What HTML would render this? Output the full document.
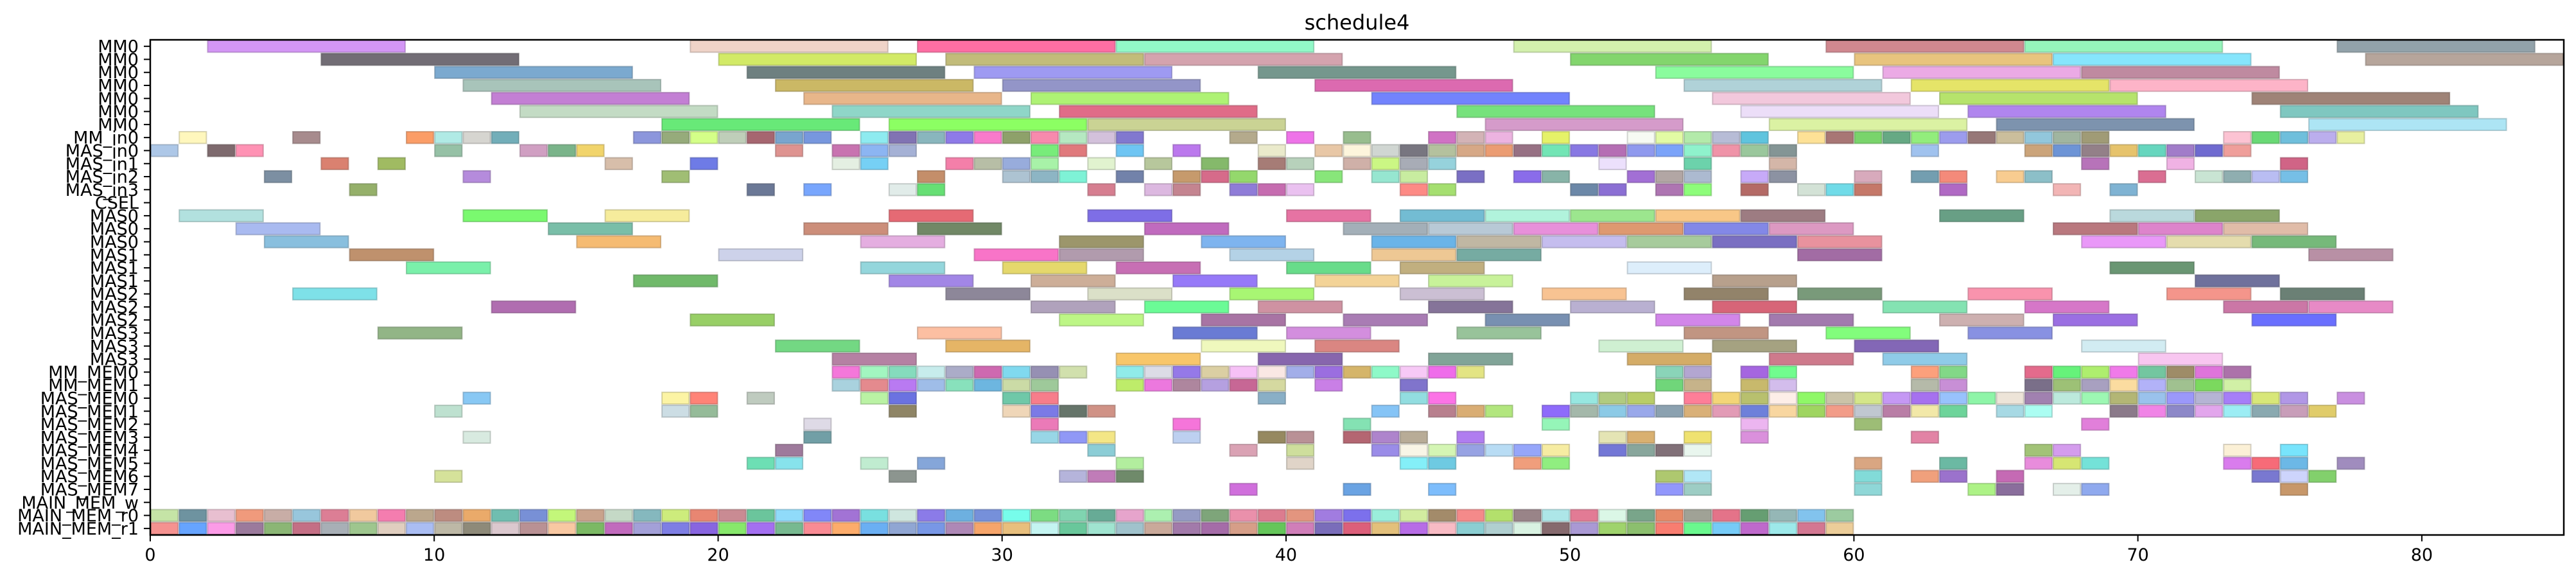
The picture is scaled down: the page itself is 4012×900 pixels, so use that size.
<!DOCTYPE html>
<html><head><meta charset="utf-8"><title>schedule4</title>
<style>html,body{margin:0;padding:0;background:#fff}svg{display:block}text{font-family:"DejaVu Sans","Liberation Sans",sans-serif;fill:#000}</style>
</head><body>
<svg id="chart" width="4012" height="900" viewBox="0 0 4012 900" xmlns="http://www.w3.org/2000/svg">
<g id="bars"></g>
<g id="axes"></g>
</svg>
<script>
const rowLabels = ["MM0","MM0","MM0","MM0","MM0","MM0","MM0","MM_in0","MAS_in0","MAS_in1","MAS_in2","MAS_in3","CSEL","MAS0","MAS0","MAS0","MAS1","MAS1","MAS1","MAS2","MAS2","MAS2","MAS3","MAS3","MAS3","MM_MEM0","MM_MEM1","MAS_MEM0","MAS_MEM1","MAS_MEM2","MAS_MEM3","MAS_MEM4","MAS_MEM5","MAS_MEM6","MAS_MEM7","MAIN_MEM_w","MAIN_MEM_r0","MAIN_MEM_r1"];
const xTicks = [0,10,20,30,40,50,60,70,80];
const xDomain = [0,85];
const chartTitle = "schedule4";
// Each row: "start-end color" or "start color" (unit-length task)
const rowTasks = [
"2-9 d396f5,19-26 efd3c8,27-34 fd6ea3,34-41 92f9c8,48-55 d3f0ad,59-66 d0888f,66-73 95f5bb,77-84 92a2aa",
"6-13 726d75,20-27 d2ea66,28-35 c2bc7a,35-42 d4a3ae,50-57 83d56d,60-67 e8c47e,67-74 86e5fc,78-85 b6a59b",
"10-17 7ba9cf,21-28 6e8080,29-36 9e9af2,39-46 75978d,53-60 8afc9d,61-68 ebaae5,68-75 bf8aa0",
"11-18 a8c4ba,22-29 cbb865,30-37 9395c8,41-48 dc6ab0,54-61 b0d2d8,62-69 e5e468,69-76 fdb4c8",
"12-19 c37fd4,23-30 e8b68a,31-38 aef274,43-50 7283fd,55-62 f2c8dc,63-70 b6e36c,74-81 9f8377",
"13-20 c3dbc4,24-31 8fd6c8,32-39 e06c88,46-53 76e27c,56-63 ecdef8,64-71 b085ee,75-82 7fc7c0",
"18-25 68e978,26-33 8cff63,33-40 cad394,47-54 d59bca,57-64 dbf2a3,65-72 7d93ae,76-83 ade5f4",
"1 fff7bd,5 a78b8d,9 fb9d67,10 b0eae5,11 d6d5d0,12 72aeb9,17 8c96dc,18 96ab7b,19 d4ff88,20 bfceb9,21 a66670,22 79a5ce,23 7797de,25 8eebf0,26 8173b3,27 89b6bd,28 8e7ae8,29 f97acb,30 8ea16a,31 f78aad,32 b5e8c1,33 d3c1db,34 8178cf,38 b4aa8c,40 ee73e8,42 98bd8e,45 d072c4,46 d3b3b6,47 ecb3e0,49 e5f268,52 f6faf3,53 e2fba4,54 b3eaaa,55 b7bcd6,56 5fc4de,58 fde196,59 a87675,60 79d46b,61 66a984,62 92ed7c,63 9c9ced,64 977878,65 cbbe9c,66 92c7dc,67 a0b5a0,68 a09b76,73 fcc3d3,74 69d975,75 6fbfdc,76 bbaeed,77 e8f0a0",
"0 adc7e7,2 7e6a6e,3 ff92b4,10 96c1a6,13 d09fc2,14 7ab48a,15 f1d46b,22 de9390,24 c873b0,25 8cb5f2,26 a5b1d5,31 78ec7a,32 e0797c,34 6ec5f3,36 bb78ed,39 eaeacb,41 e8c7a6,42 fdf5dc,43 d0d6d2,44 787680,45 b4c19e,46 d6a886,47 eb9c72,48 977184,49 72e5b5,50 8878e3,51 b56eb4,52 8f99ee,53 7ba3f9,54 8ff2cc,55 ef93a8,56 9ac79c,57 849595,62 a0c2ee,66 cba47a,67 6d94d6,68 938088,69 e6c36c,70 66d6be,71 a17cc9,72 6f6ad0,73 ef9e9a",
"6 da8170,8 a0bb62,16 d7beaa,19 6e7be6,24 e4efe2,25 76d0f5,28 f47fa9,29 b7bea6,30 98acdc,31 a8f2a8,33 e1f3cf,35 b7c79c,37 85b96b,39 a67c76,40 b7d1bb,42 cfb0a8,43 cbf784,44 a8acb6,45 96d2dc,51 ece0fc,54 6cd2ab,57 d4b6a8,68 b773b9,71 f0b2e4,75 d06486",
"4 7c8fa2,11 b58bdc,18 a0be74,27 c48e6a,30 adc3d2,31 8db5c4,32 7ef2d6,34 7282aa,36 c69a6c,37 d66b8a,38 94d86c,41 88e67a,43 96e6d0,44 c8eca0,46 7a6fc4,48 8a6cea,49 88b4a8,52 a26fd5,53 b2a6a4,54 acbad0,56 c7aaf8,57 8c92a2,60 d8aabc,62 739eb0,63 f48a7a,65 f8cc90,66 8cbfc8,70 da6e92,72 c9e4d3,73 8faeb0,74 b9bdf2,75 76bfe6",
"7 95b06a,21 6b7896,23 78a6fd,26 e1ece9,27 66df74,33 d67e90,35 dcb8e0,36 c48490,38 8f7cd8,39 c66cb0,40 eac1f0,44 fd8a85,45 a5df70,50 6c88a8,51 8b6fd4,53 ae75b2,54 8dfd7a,56 b46a66,58 d3e2d6,59 70dbe8,60 c57869,63 b069c4,67 f2b5b5,69 7fb3d3",
"",
"1-4 b2e1df,11-14 7af96f,16-19 f6ec9c,26-29 e56a74,33-36 7e6ee6,40-43 e673a3,44-47 73bcd3,47-50 b1f3dc,50-53 9ce68e,53-56 f8c787,56-59 9d7c82,63-66 689f85,69-72 bad9dd,72-75 8aa56a",
"3-6 a9baf0,14-17 79bea8,23-26 cc8e7a,27-30 718866,35-38 c06bbe,42-45 a3afb8,45-48 b8c9d6,48-51 e790da,51-54 de9970,54-57 8388e7,57-60 dc99c2,67-70 b9787e,70-73 dd84cb,73-76 e0bca8",
"4-7 89bfde,15-18 f5bb72,25-28 e4aee0,32-35 9c966b,37-40 7eb4ef,43-46 6ab4e8,46-49 c0b7a3,49-52 c5bdee,52-55 a7cb9c,55-58 7a6fc2,58-61 e8929e,68-71 e998f8,71-74 e4dcad,74-77 76b97a",
"7-10 bf916d,20-23 cdd2ea,29-32 f874c8,32-35 b19bad,38-41 b4d2e6,43-46 eec894,46-49 76aba2,58-61 a26ca4,76-79 b890a5",
"9-12 7af0aa,25-28 94d6dc,30-33 e5d86c,34-37 c76fb4,40-43 68dc8a,44-47 c1af7f,52-55 ddeefb,69-72 6a9673",
"17-20 70b96a,26-29 a286e6,31-34 cdae98,36-39 9679f8,41-44 f3d397,45-48 c8f29a,55-58 b7a08c,72-75 6f719c",
"5-8 7ee1e8,28-31 8d8799,33-36 dbe0c8,38-41 a8f673,44-47 cbbfd3,49-52 f8c392,54-57 92836a,58-61 799a7a,64-67 f993ad,71-74 f4958b,75-78 6b8075",
"12-15 b06db0,31-34 b0a2bc,35-38 6bfb96,39-42 cf92a2,45-48 857499,50-53 b9b0d1,55-58 d76578,61-64 84e3b2,66-69 d677c8,73-76 cb77a6,76-79 e78ac6",
"19-22 98cf66,32-35 bdf686,37-40 a874a4,42-45 a97cb4,47-50 7890b1,53-56 d286e9,57-60 a27aae,63-66 cdb0b0,67-70 9b6fe2,74-77 6a6ffe",
"8-11 92b586,27-30 fcbfa2,36-39 6a7bd4,40-43 d38ede,46-49 98c39a,54-57 c19582,59-62 82fd7c,64-67 8891e2",
"22-25 73d883,28-31 e5b566,37-40 eff8bd,41-44 da8682,51-54 cff0d2,55-58 a5a281,60-63 8367b6,68-71 d2ecf2",
"24-27 b581a3,34-37 f8c66a,39-42 8766ad,45-48 81a498,52-55 d4ac67,57-60 ce7a8c,61-64 8fcbe8,70-73 f8c6f0",
"24 f477da,25 a2f6c0,26 85dbbd,27 c7ecec,28 abacc8,29 ce69b0,30 80d9ef,31 9690b3,32 d1e0ad,34 90ebe9,35 dcdce6,36 9579e8,37 dbcfa3,38 f6c1f6,39 fae8e4,40 a2aee9,41 9b6ee0,42 d5b56a,43 8ef9c8,44 f7c9f6,45 ef6cea,46 e3e483,53 8ad4b8,54 b3a6d1,56 a566e0,57 71fc8e,62 fca07c,63 82d887,66 e36b8c,67 66f27a,68 aeee6e,69 f07ae9,70 73c6a0,71 9e8c68,72 df74db,73 ac72aa",
"24 a9d2de,25 e48a8e,26 b97af2,27 9fbde8,28 88e1bc,29 6db6e0,30 cbdba6,31 9ec99a,34 beec6a,35 ec78de,36 ae869e,37 b5a0e0,38 c76795,39 d5d9a0,41 c97fe6,44 8074cc,53 70d67a,54 c6b38a,56 c8b96c,57 d3bdec,62 b5baa9,63 c88fd6,66 7a6f89,67 9dc176,68 a8a0c0,69 fbdca0,70 b2b2f8,71 a0c190,72 7bd95e,73 d1f0a6",
"11 88c8f4,18 fcf4a4,19 ff8377,21 bfcbbf,25 baf2a4,26 6b72e1,30 6fc8a8,31 f77d8b,39 89afc6,44 92dde0,45 fc73e6,50 97e7e0,51 b1cb80,52 b9cd68,54 fe7e98,55 f3d577,56 b8c06e,57 fdeee8,58 8ff867,59 cbc3a8,60 d4e68a,61 c598f4,62 a671ef,63 98c2fc,64 8ef5a8,65 ede4d8,66 a181b0,67 bce9dc,68 9df7b3,69 b3b675,70 9ac2ec,71 9b98fa,72 b5b4d4,73 a67ef8,74 d8e778,75 b197e6,77 c98fe0",
"10 bee1d0,18 ccdde4,19 95bb99,26 8f8566,30 efd6b8,31 7b7ae6,32 66756a,33 d09286,43 85c4f6,45 b8808e,46 d9ad74,47 b2e67e,49 8e6bfb,50 a4b8aa,51 8ccae6,52 99a8ea,53 8ba1b0,54 d9b078,55 e29bb6,56 6e80da,57 f8d6a0,58 9fd560,59 f29c88,60 c0c7d0,61 b97ea6,62 f2e8a8,63 6dd49a,65 a7d9e4,66 abfdf2,69 8b7a8a,70 f084e6,71 8d88c8,72 e2a6ec,73 9cedf4,74 8aa9b0,75 c89eb9,76 e0cc6a",
"23 dedae6,31 eb7ab8,36 f575da,42 84e2b3,49 95f5b8,56 ecb5f0,60 9dbd76,68 e17fda",
"11 d8eae0,23 719fa6,31 98d6e6,32 9098f6,33 f3e686,36 bdd0f0,39 968960,40 b99196,42 b46672,43 ae84cc,44 b8ac97,46 b07df0,51 e4e4b4,52 d9b070,54 efe270,56 da90dc,62 e283a5",
"22 9e7a9c,33 8bcdd6,38 daa2b4,40 cede9c,43 9a8ce8,44 f8f5e6,45 d4f5b4,46 97a2e3,47 b8dcf4,48 96a6fa,49 f6eca2,51 7377d6,52 88a69c,53 817078,54 e9f6ee,66 a2c377,67 d49ced,73 fbf0d6,75 78e4fc",
"21 6ddfb4,22 87e3ec,25 c0ecd0,27 85a6d9,34 b2ee9e,40 e0d4c8,44 84eff8,45 6ecae2,48 f09e7c,49 90ee80,60 d9a682,63 6bb9a3,66 e88cdc,67 d6e673,68 74e2d8,73 d97ced,74 f76b78,75 6cb8e6,77 a08cbe",
"10 d5e29a,26 8c958f,32 b5b4db,33 c07cb8,34 6f8a6a,53 aec86f,54 b1e7f6,60 82dbd8,62 f0a07c,63 9b72cc,65 c56ab4,74 7978d0,75 cdd4fc,76 82d06c",
"38 d06fdc,42 6aa3e3,45 7dbdfc,53 9297fc,54 9dcdc4,60 8fd7d7,64 adf286,65 8a6e9c,67 e4efe9,68 8fa9ee,75 c7976a",
"",
"0 c5e4a6,1 6e93a0,2 e8bfd0,3 f09a7c,4 c8ada6,5 98c6dc,6 dc7e95,7 f1c99e,8 f47daf,9 bba78d,10 bd8c80,11 eaaa6a,12 70beb0,13 7890d6,14 c3f77a,15 c9a38c,16 c5d9c6,17 85b8be,18 cdec7c,19 e88672,20 c98b93,21 6bc59c,22 90dbfa,23 8187f8,24 a273d5,25 79e0e0,26 cfe6df,27 8b7be8,28 6db0e0,29 7690da,30 77fdeb,31 7cdc82,32 80d4b0,33 67ab96,34 e6a4cc,35 acf0b0,36 959bc4,37 7ea57a,38 ea90ab,39 dc7c8f,40 e3957f,41 a17ce0,42 7c70ec,43 9aeedb,44 d2eca0,45 a38b6a,46 f48a8a,47 b3e06c,48 998488,49 ade6e8,50 e27b95,51 dbf7e6,52 79a58a,53 e68a68,54 a0a296,55 e47389,56 669e72,57 95b7b6,58 82c3ed,59 9ccba0",
"0 f59290,1 66a4ff,2 fc9be7,3 9b7a9c,4 8bb675,5 c46f85,6 a8afb6,7 9ec68e,8 e0cebf,9 aabdf3,10 bdb8a6,11 8e8a79,12 dbc8ce,13 b99194,14 f8c8a2,15 7bb964,16 c16abd,17 a3a0d8,18 7e7ee4,19 8865e0,20 87e86b,21 a46ff1,22 77b990,23 f98b94,24 fdac6b,25 6aaff3,26 90a6d3,27 7897e6,28 ae88b6,29 f6a56a,30 e8bf7d,31 c4f4f1,32 69c79b,33 a0e4d0,34 a0c2cc,35 c9a99a,36 a27aaa,37 a56ca8,38 d69e88,39 65c65a,40 d07eb9,41 7a6dba,42 dc5f7a,43 e3c07b,44 b76ce6,45 f8bbc4,46 8bced2,47 b0cfd0,48 d9f2e2,49 866a6e,50 aa99d4,51 9fd36c,52 8cbf6e,53 f87d70,54 6af88e,55 76cbf7,56 bf69cc,57 9de9ea,58 d37792,59 eccd99"
];
// Flattened data arrays
const taskRow = [], taskStart = [], taskEnd = [], taskColor = [];
rowTasks.forEach((spec, r) => {
  if (!spec) return;
  spec.split(',').forEach(item => {
    const [range, col] = item.trim().split(' ');
    const p = range.split('-').map(Number);
    taskRow.push(r); taskStart.push(p[0]); taskEnd.push(p.length > 1 ? p[1] : p[0] + 1); taskColor.push('#' + col);
  });
});

const NS = 'http://www.w3.org/2000/svg';
const L = 234, R = 3993, T = 62, B = 833;
const nRows = rowLabels.length;
const xScale = v => L + (v - xDomain[0]) / (xDomain[1] - xDomain[0]) * (R - L);
const rowH = (B - T) / nRows;
const yScale = r => T + (r + 0.5) * rowH;

function darker(hex) {
  const n = parseInt(hex.slice(1), 16);
  const f = c => Math.round(c * 0.72);
  return `rgb(${f(n >> 16)},${f((n >> 8) & 255)},${f(n & 255)})`;
}
function mk(tag, attrs, parent) {
  const e = document.createElementNS(NS, tag);
  for (const k in attrs) e.setAttribute(k, attrs[k]);
  parent.appendChild(e);
  return e;
}

const barsG = document.getElementById('bars');
for (let i = 0; i < taskRow.length; i++) {
  const x0 = xScale(taskStart[i]), x1 = xScale(taskEnd[i]);
  const yc = yScale(taskRow[i]);
  const r = mk('rect', {x: x0 + 1, y: yc - rowH / 2 + 1, width: x1 - x0 - 2, height: rowH - 2,
    fill: taskColor[i], stroke: darker(taskColor[i]), 'stroke-width': 2, 'stroke-opacity': 0.55}, barsG);
  
  
}

const ax = document.getElementById('axes');
const frame = mk('rect', {x: L, y: T, width: R - L, height: B - T, fill: 'none', stroke: '#000', 'stroke-width': 2.5}, ax);



xTicks.forEach(v => {
  const x = xScale(v);
  const t = mk('line', {x1: x, y1: B, x2: x, y2: B + 10, stroke: '#000', 'stroke-width': 2}, ax);
  
  
  const lb = mk('text', {x: x, y: B + 40, 'text-anchor': 'middle', 'font-size': 27}, ax);
  lb.textContent = String(v);
  
  
});

rowLabels.forEach((lab, r) => {
  const y = yScale(r);
  const t = mk('line', {x1: L - 10, y1: y, x2: L, y2: y, stroke: '#000', 'stroke-width': 2}, ax);
  
  
  const lb = mk('text', {x: L - 18, y: y + 9.5, 'text-anchor': 'end', 'font-size': 27}, ax);
  lb.textContent = lab;
  
  
});

const title = mk('text', {x: (L + R) / 2, y: 46, 'text-anchor': 'middle', 'font-size': 32}, ax);
title.textContent = chartTitle;


</script>
</body></html>
